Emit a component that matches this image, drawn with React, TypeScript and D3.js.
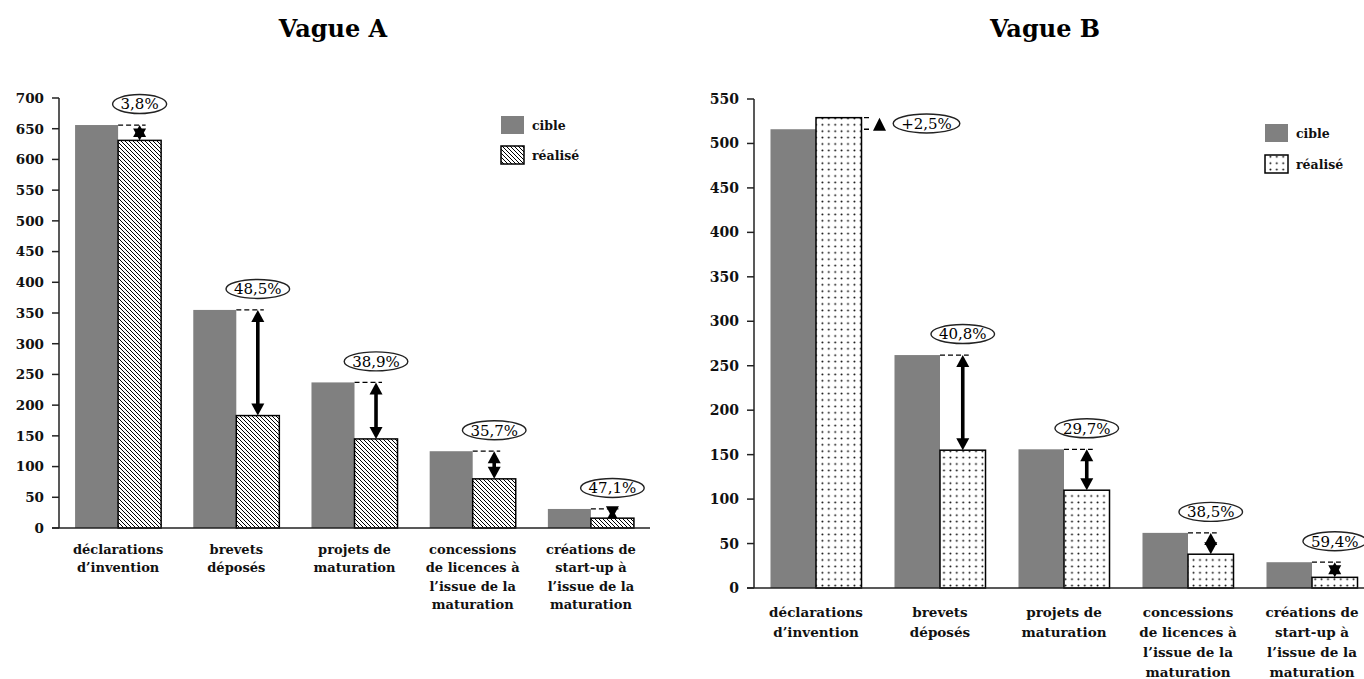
import React from "react";
import * as d3 from "d3";

// Shared category labels (one entry per line of text)
const categoryLines: string[][] = [
  ["déclarations", "d’invention"],
  ["brevets", "déposés"],
  ["projets de", "maturation"],
  ["concessions", "de licences à", "l’issue de la", "maturation"],
  ["créations de", "start-up à", "l’issue de la", "maturation"],
];

const seriesNames = ["cible", "réalisé"];

// Vague A
const vagueACible = [656, 355, 237, 125, 31];
const vagueARealise = [631, 183, 145, 80, 16];
const vagueAEcart = ["3,8%", "48,5%", "38,9%", "35,7%", "47,1%"];
const vagueATicks = [0, 50, 100, 150, 200, 250, 300, 350, 400, 450, 500, 550, 600, 650, 700];

// Vague B
const vagueBCible = [516, 262, 156, 62, 29];
const vagueBRealise = [529, 155, 110, 38, 12];
const vagueBEcart = ["+2,5%", "40,8%", "29,7%", "38,5%", "59,4%"];
const vagueBTicks = [0, 50, 100, 150, 200, 250, 300, 350, 400, 450, 500, 550];

const SERIF = "'DejaVu Serif', serif";
const GREY = "#808080";

type PanelCfg = {
  title: string;
  titleX: number;
  cible: number[];
  realise: number[];
  ecart: string[];
  ticks: number[];
  x0: number;
  x1: number;
  axisEnd: number;
  yTop: number;
  yBottom: number;
  max: number;
  padding: number;
  fill: string;
  legendX: number;
  legendY: number;
  legendGap: number;
  tickFont: number;
  labelFont: number;
  labelY: number;
  labelStep: number;
  pctFont: number;
};

// rough width of a percentage label in DejaVu Serif
function pctWidth(s: string, size: number) {
  let w = 0;
  for (const c of s) {
    if (c === ",") w += 0.318;
    else if (c === "%") w += 0.948;
    else if (c === "+") w += 0.838;
    else w += 0.636;
  }
  return w * size;
}

function Panel({ cfg }: { cfg: PanelCfg }) {
  const idx = categoryLines.map((_, i) => String(i));
  const x = d3.scaleBand<string>().domain(idx).range([cfg.x0, cfg.x1]).paddingInner(cfg.padding).paddingOuter(cfg.padding / 2);
  const xs = d3.scaleBand<string>().domain(seriesNames).range([0, x.bandwidth()]);
  const y = d3.scaleLinear().domain([0, cfg.max]).range([cfg.yBottom, cfg.yTop]);
  const bw = xs.bandwidth();

  const headL = 12;
  const headW = 6.5;

  return (
    <g>
      <text x={cfg.titleX} y={37} textAnchor="middle" fontFamily={SERIF} fontWeight="bold" fontSize={24} fill="#000">
        {cfg.title}
      </text>

      {/* y axis */}
      <line x1={cfg.x0} x2={cfg.x0} y1={y(cfg.max)} y2={y(0)} stroke="#222" strokeWidth={1.5} />
      {cfg.ticks.map((t) => (
        <g key={t}>
          <line x1={cfg.x0 - 7} x2={cfg.x0} y1={y(t)} y2={y(t)} stroke="#222" strokeWidth={1.5} />
          <text x={cfg.x0 - 15} y={y(t)} dy="0.36em" textAnchor="end" fontFamily={SERIF} fontWeight="bold" fontSize={cfg.tickFont} fill="#111">
            {t}
          </text>
        </g>
      ))}

      {/* gap markers drawn under the bars */}
      {cfg.cible.map((c, i) => {
        const r = cfg.realise[i];
        const xr = (x(String(i)) as number) + (xs("réalisé") as number);
        const yc = y(c);
        const yr = y(r);
        const txt = cfg.ecart[i];
        const rx = pctWidth(txt, cfg.pctFont) / 2 + 8;
        if (r > c) {
          const tx = xr + bw + 18;
          return (
            <g key={"m" + i}>
              <line x1={xr} x2={tx - 10} y1={yr} y2={yr} stroke="#000" strokeWidth={1.3} strokeDasharray="5,3" />
              <line x1={xr} x2={tx - 10} y1={yc} y2={yc} stroke="#000" strokeWidth={1.3} strokeDasharray="5,3" />
              <path d={`M${tx},${yr} L${tx + 6.5},${yr + 13} L${tx - 6.5},${yr + 13} Z`} fill="#000" />
              <ellipse cx={tx + 47} cy={(yr + yc) / 2} rx={rx} ry={9.5} fill="#fff" stroke="#222" strokeWidth={1.4} />
              <text x={tx + 47} y={(yr + yc) / 2} dy="0.36em" textAnchor="middle" fontFamily={SERIF} fontSize={cfg.pctFont} fill="#000">
                {txt}
              </text>
            </g>
          );
        }
        const cx = xr + bw / 2;
        return (
          <g key={"m" + i}>
            <line x1={xr} x2={cx + 6} y1={yc} y2={yc} stroke="#000" strokeWidth={1.3} strokeDasharray="5,3" />
            {yr - yc > 2 * headL && (
              <line x1={cx} x2={cx} y1={yc + headL - 1} y2={yr - headL + 1} stroke="#000" strokeWidth={3.6} />
            )}
            <path d={`M${cx},${yc} L${cx + headW},${yc + headL} L${cx - headW},${yc + headL} Z`} fill="#000" />
            <path d={`M${cx},${yr} L${cx + headW},${yr - headL} L${cx - headW},${yr - headL} Z`} fill="#000" />
            <ellipse cx={cx} cy={yc - 21} rx={rx} ry={9.5} fill="#fff" stroke="#222" strokeWidth={1.4} />
            <text x={cx} y={yc - 21} dy="0.36em" textAnchor="middle" fontFamily={SERIF} fontSize={cfg.pctFont} fill="#000">
              {txt}
            </text>
          </g>
        );
      })}

      {/* bars */}
      {cfg.cible.map((c, i) => {
        const r = cfg.realise[i];
        const bx = x(String(i)) as number;
        const xc = bx + (xs("cible") as number);
        const xr = bx + (xs("réalisé") as number);
        return (
          <g key={"b" + i}>
            <rect x={xc} y={y(c)} width={bw} height={y(0) - y(c)} fill={GREY} />
            <rect x={xr} y={y(r)} width={bw} height={y(0) - y(r)} fill={cfg.fill} stroke="#000" strokeWidth={1.5} />
          </g>
        );
      })}

      {/* x axis */}
      <line x1={cfg.x0 - 7} x2={cfg.axisEnd} y1={y(0)} y2={y(0)} stroke="#222" strokeWidth={1.5} />

      {/* category labels */}
      {categoryLines.map((lines, i) => {
        const cx = (x(String(i)) as number) + x.bandwidth() / 2;
        return (
          <text key={"l" + i} textAnchor="middle" fontFamily={SERIF} fontWeight="bold" fontSize={cfg.labelFont} fill="#111">
            {lines.map((ln, j) => (
              <tspan key={j} x={cx} y={cfg.labelY + j * cfg.labelStep} dy="0.36em">
                {ln}
              </tspan>
            ))}
          </text>
        );
      })}

      {/* legend */}
      <rect x={cfg.legendX} y={cfg.legendY} width={23} height={18} fill={GREY} />
      <text x={cfg.legendX + 31} y={cfg.legendY + 9} dy="0.36em" fontFamily={SERIF} fontWeight="bold" fontSize={12.5} fill="#111">
        cible
      </text>
      <rect x={cfg.legendX} y={cfg.legendY + cfg.legendGap} width={23} height={18} fill={cfg.fill} stroke="#000" strokeWidth={1.5} />
      <text x={cfg.legendX + 31} y={cfg.legendY + cfg.legendGap + 9} dy="0.36em" fontFamily={SERIF} fontWeight="bold" fontSize={12.5} fill="#111">
        réalisé
      </text>
    </g>
  );
}

const panelA: PanelCfg = {
  title: "Vague A",
  titleX: 333,
  cible: vagueACible,
  realise: vagueARealise,
  ecart: vagueAEcart,
  ticks: vagueATicks,
  x0: 59,
  x1: 650,
  axisEnd: 650,
  yTop: 98,
  yBottom: 528,
  max: 700,
  padding: 0.272,
  fill: "url(#hatch)",
  legendX: 501,
  legendY: 116,
  legendGap: 30,
  tickFont: 13.5,
  labelFont: 13,
  labelY: 549,
  labelStep: 18.5,
  pctFont: 15,
};

const panelB: PanelCfg = {
  title: "Vague B",
  titleX: 1045,
  cible: vagueBCible,
  realise: vagueBRealise,
  ecart: vagueBEcart,
  ticks: vagueBTicks,
  x0: 754,
  x1: 1374,
  axisEnd: 1364,
  yTop: 99,
  yBottom: 588,
  max: 550,
  padding: 0.266,
  fill: "url(#dots)",
  legendX: 1265,
  legendY: 124,
  legendGap: 31,
  tickFont: 14,
  labelFont: 13.5,
  labelY: 612,
  labelStep: 20,
  pctFont: 15,
};

export default function App() {
  return (
    <svg width={1364} height={679} style={{ position: "absolute", left: 0, top: 0, display: "block", background: "#fff" }}>
      <defs>
        <pattern id="hatch" patternUnits="userSpaceOnUse" width={4} height={4}>
          <rect width={4} height={4} fill="#fff" />
          <path d="M-1,-1 L5,5 M-1,3 L1,5 M3,-1 L5,1" stroke="#000" strokeWidth={1} />
        </pattern>
        <pattern id="dots" patternUnits="userSpaceOnUse" width={6.4} height={6.4}>
          <rect width={6.4} height={6.4} fill="#fff" />
          <circle cx={3.2} cy={3.2} r={0.95} fill="#000" />
        </pattern>
      </defs>
      <rect width={1364} height={679} fill="#fff" />
      <Panel cfg={panelA} />
      <Panel cfg={panelB} />
    </svg>
  );
}
